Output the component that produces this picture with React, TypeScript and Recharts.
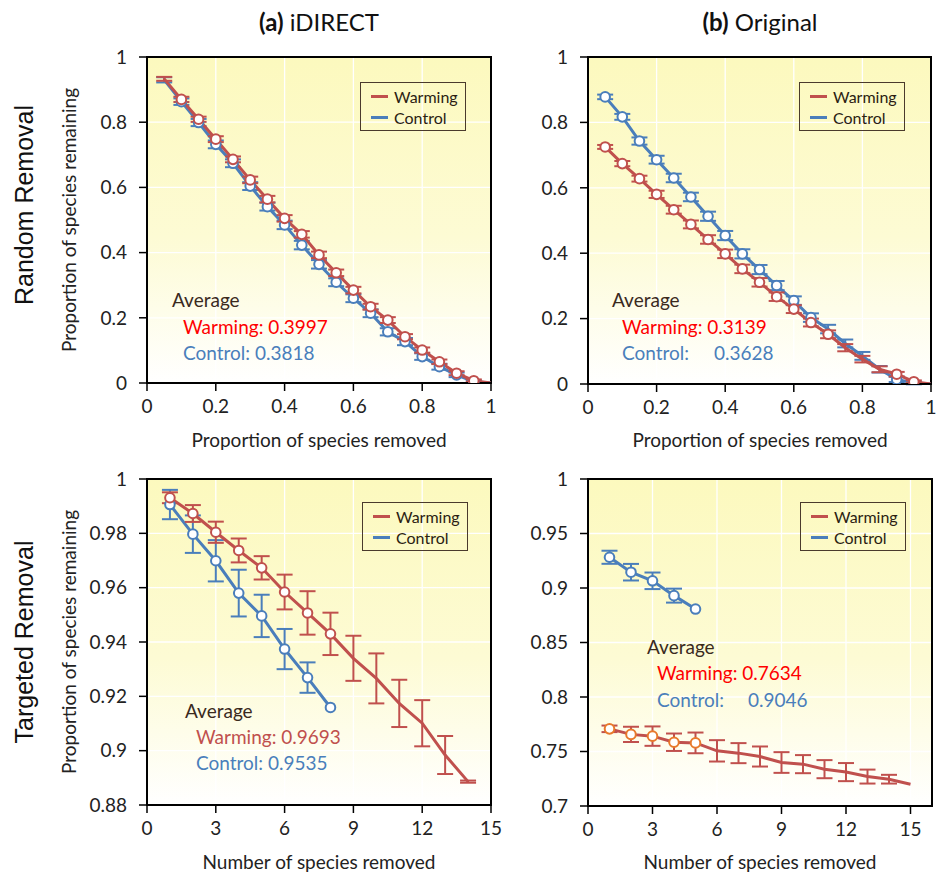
import React from 'react';
import {
  LineChart,
  Line,
  XAxis,
  YAxis,
  CartesianGrid,
  ErrorBar,
  ReferenceArea,
  Legend,
} from 'recharts';

const FONT = 'Lato, "Open Sans", sans-serif';
const WARM = '#C0504D';
const CTRL = '#4A7EBB';
const WARM_MARK_ORIG = '#E8792B';
const INK = '#222222';
const BROWN = '#3A2A1E';

// ---- Random removal: x = proportion of species removed ----
const fractionRemoved = [0.05, 0.1, 0.15, 0.2, 0.25, 0.3, 0.35, 0.4, 0.45, 0.5, 0.55, 0.6, 0.65, 0.7, 0.75, 0.8, 0.85, 0.9, 0.95, 1];
const fractionTicks = [0, 0.2, 0.4, 0.6, 0.8, 1];
const proportionTicks = [0, 0.2, 0.4, 0.6, 0.8, 1];

const idirectRandomWarming = [0.933, 0.870, 0.809, 0.748, 0.686, 0.623, 0.564, 0.505, 0.456, 0.393, 0.338, 0.285, 0.234, 0.193, 0.142, 0.101, 0.065, 0.030, 0.007, 0];
const idirectRandomWarmingErr = [0.006, 0.008, 0.008, 0.009, 0.009, 0.010, 0.010, 0.010, 0.010, 0.010, 0.010, 0.010, 0.009, 0.009, 0.008, 0.008, 0.007, 0.006, 0.004, 0];
const idirectRandomControl = [0.930, 0.863, 0.799, 0.732, 0.674, 0.604, 0.541, 0.485, 0.423, 0.364, 0.309, 0.260, 0.214, 0.157, 0.127, 0.081, 0.050, 0.025, 0.004, 0];
const idirectRandomControlErr = [0.008, 0.010, 0.011, 0.012, 0.012, 0.012, 0.012, 0.013, 0.013, 0.013, 0.012, 0.012, 0.012, 0.011, 0.011, 0.010, 0.009, 0.007, 0.004, 0];

const originalRandomWarming = [0.725, 0.674, 0.628, 0.580, 0.533, 0.488, 0.442, 0.398, 0.352, 0.311, 0.267, 0.229, 0.188, 0.152, 0.111, 0.076, 0.045, 0.030, 0.007, 0];
const originalRandomWarmingErr = [0.006, 0.008, 0.009, 0.011, 0.012, 0.012, 0.013, 0.013, 0.013, 0.013, 0.013, 0.012, 0.012, 0.012, 0.011, 0.010, 0.009, 0.007, 0.004, 0];
const originalRandomControl = [0.878, 0.817, 0.743, 0.686, 0.630, 0.572, 0.513, 0.454, 0.398, 0.350, 0.301, 0.255, 0.203, 0.168, 0.124, 0.086, 0.045, 0.014, 0.003, 0];
const originalRandomControlErr = [0.007, 0.009, 0.011, 0.012, 0.013, 0.013, 0.014, 0.014, 0.014, 0.014, 0.014, 0.013, 0.013, 0.013, 0.012, 0.012, 0.010, 0.008, 0.004, 0];

// ---- Targeted removal: x = number of species removed ----
const countTicks = [0, 3, 6, 9, 12, 15];
const idirectCount = [1, 2, 3, 4, 5, 6, 7, 8, 9, 10, 11, 12, 13, 14];
const idirectTargetTicks = [0.88, 0.9, 0.92, 0.94, 0.96, 0.98, 1];
const idirectTargetWarming = [0.9931, 0.9873, 0.9804, 0.9737, 0.9673, 0.9584, 0.9507, 0.9430, 0.9340, 0.9266, 0.9174, 0.9101, 0.8984, 0.8886];
const idirectTargetWarmingErr = [0.0020, 0.0031, 0.0039, 0.0044, 0.0043, 0.0064, 0.0080, 0.0078, 0.0083, 0.0092, 0.0087, 0.0085, 0.0070, 0.0004];
const idirectTargetControl = [0.9906, 0.9797, 0.9699, 0.9580, 0.9496, 0.9374, 0.9269, 0.9159];
const idirectTargetControlErr = [0.0054, 0.0069, 0.0076, 0.0086, 0.0078, 0.0074, 0.0056, 0];

const originalCount = [1, 2, 3, 4, 5, 6, 7, 8, 9, 10, 11, 12, 13, 14, 15];
const originalTargetTicks = [0.7, 0.75, 0.8, 0.85, 0.9, 0.95, 1];
const originalTargetWarming = [0.7708, 0.7657, 0.7641, 0.7585, 0.7579, 0.7506, 0.7485, 0.7454, 0.7399, 0.7384, 0.7338, 0.7311, 0.7270, 0.7246, 0.7200];
const originalTargetWarmingErr = [0.003, 0.007, 0.0089, 0.008, 0.0095, 0.0098, 0.0092, 0.0092, 0.0095, 0.0083, 0.0083, 0.0083, 0.0064, 0.004, 0];
const originalTargetControl = [0.9282, 0.9145, 0.9066, 0.8930, 0.8807];
const originalTargetControlErr = [0.006, 0.0076, 0.0076, 0.0064, 0];

type Row = { x: number; w?: number; we?: number; c?: number; ce?: number };

function buildRows(xs: number[], w: number[], we: number[], c: number[], ce: number[]): Row[] {
  return xs.map((x, i) => ({ x, w: w[i], we: we[i], c: c[i], ce: ce[i] }));
}

const idirectRandomRows = buildRows(fractionRemoved, idirectRandomWarming, idirectRandomWarmingErr, idirectRandomControl, idirectRandomControlErr);
const originalRandomRows = buildRows(fractionRemoved, originalRandomWarming, originalRandomWarmingErr, originalRandomControl, originalRandomControlErr);
const idirectTargetRows = buildRows(idirectCount, idirectTargetWarming, idirectTargetWarmingErr, idirectTargetControl, idirectTargetControlErr);
const originalTargetRows = buildRows(originalCount, originalTargetWarming, originalTargetWarmingErr, originalTargetControl, originalTargetControlErr);

type Series = {
  key: string;
  errKey: string;
  color: string;
  markColor: string;
  marked: (i: number) => boolean;
};

const makeDot = (s: Series) => (props: any) => {
  const { cx, cy, index, value } = props;
  const k = `${s.key}-dot-${index}`;
  if (!s.marked(index) || cx == null || cy == null || value == null) return <g key={k} />;
  return <circle key={k} cx={cx} cy={cy} r={4.8} fill="#FFFFFF" stroke={s.markColor} strokeWidth={2} />;
};

const LegendBox = () => (
  <div
    style={{
      width: 106,
      height: 49,
      boxSizing: 'border-box',
      border: '1.5px solid #4A3A2C',
      fontFamily: FONT,
      fontSize: 16,
      color: '#2B1D12',
      paddingTop: 3,
    }}
  >
    {[
      ['Warming', WARM],
      ['Control', CTRL],
    ].map(([label, color]) => (
      <div key={label} style={{ display: 'flex', alignItems: 'center', height: 21 }}>
        <span style={{ display: 'inline-block', width: 17, height: 3, background: color, marginLeft: 10, marginRight: 6 }} />
        <span>{label}</span>
      </div>
    ))}
  </div>
);

type PanelProps = {
  id: string;
  left: number;
  top: number;
  plotW: number;
  plotH: number;
  data: Row[];
  xDomain: [number, number];
  xTicks: number[];
  yDomain: [number, number];
  yTicks: number[];
  series: Series[];
  legendLeft: number;
  legendTop: number;
};

const RIGHT_PAD = 16;

function Panel(p: PanelProps) {
  const width = 60 + p.plotW + RIGHT_PAD;
  const height = 20 + p.plotH + 40;
  const tickStyle = { fill: INK, fontSize: 19, fontFamily: FONT };
  return (
    <div style={{ position: 'absolute', left: p.left, top: p.top }}>
      <LineChart width={width} height={height} data={p.data} margin={{ top: 20, right: RIGHT_PAD, bottom: 0, left: 0 }}>
        <defs>
          <linearGradient id={`bg-${p.id}`} x1="0" y1="0" x2="0" y2="1">
            <stop offset="0%" stopColor="#FCF9BE" />
            <stop offset="55%" stopColor="#FDFBD4" />
            <stop offset="100%" stopColor="#FFFFFF" />
          </linearGradient>
        </defs>
        <CartesianGrid stroke="#FFFFFF" strokeWidth={1.3} fill={`url(#bg-${p.id})`} fillOpacity={1} />
        <XAxis
          type="number"
          dataKey="x"
          domain={p.xDomain}
          ticks={p.xTicks}
          interval={0}
          allowDataOverflow
          height={40}
          tickSize={8}
          tickMargin={9}
          axisLine={{ stroke: '#000', strokeWidth: 2 }}
          tickLine={{ stroke: '#000', strokeWidth: 1.5 }}
          tick={tickStyle}
        />
        <YAxis
          type="number"
          domain={p.yDomain}
          ticks={p.yTicks}
          interval={0}
          allowDataOverflow
          width={60}
          tickSize={8}
          tickMargin={12}
          axisLine={{ stroke: '#000', strokeWidth: 2 }}
          tickLine={{ stroke: '#000', strokeWidth: 1.5 }}
          tick={tickStyle}
        />
        <ReferenceArea
          x1={p.xDomain[0]}
          x2={p.xDomain[1]}
          y1={p.yDomain[0]}
          y2={p.yDomain[1]}
          fill="none"
          stroke="#000"
          strokeWidth={2}
          ifOverflow="visible"
        />
        {p.series.map((s) => (
          <Line
            key={s.key}
            type="linear"
            dataKey={s.key}
            stroke={s.color}
            strokeWidth={3}
            dot={makeDot(s)}
            activeDot={false}
            connectNulls={false}
            isAnimationActive={false}
          >
            <ErrorBar dataKey={s.errKey} width={8} stroke={s.color} strokeWidth={2} direction="y" isAnimationActive={false} />
          </Line>
        ))}
        <Legend
          layout="horizontal"
          verticalAlign="middle"
          align="center"
          wrapperStyle={{ left: p.legendLeft, top: p.legendTop, width: 106, height: 49 }}
          content={() => <LegendBox />}
        />
      </LineChart>
    </div>
  );
}

type TextProps = {
  x: number;
  y: number;
  children: React.ReactNode;
  style?: React.CSSProperties;
  center?: boolean;
  rotate?: boolean;
};

const Text = ({ x, y, children, style, center, rotate }: TextProps) => (
  <div
    style={{
      position: 'absolute',
      left: x,
      top: y,
      whiteSpace: 'pre',
      lineHeight: 1.2,
      fontFamily: FONT,
      transform: `translate(${center || rotate ? '-50%' : '0'}, -50%)${rotate ? ' rotate(-90deg)' : ''}`,
      ...style,
    }}
  >
    {children}
  </div>
);

const all = () => true;

export default function App() {
  const annot = { fontSize: 19 };
  return (
    <div style={{ position: 'absolute', left: 0, top: 0, width: 936, height: 878, background: '#FFFFFF', overflow: 'hidden' }}>
      {/* column titles */}
      <Text x={319} y={22} center style={{ fontSize: 24, color: '#111' }}>
        <b>(a)</b> iDIRECT
      </Text>
      <Text x={760} y={22} center style={{ fontSize: 24, color: '#111' }}>
        <b>(b)</b> Original
      </Text>

      {/* row titles */}
      <Text x={24} y={205} rotate style={{ fontSize: 25, fontFamily: '"Liberation Sans", Arial, sans-serif', color: '#111' }}>
        Random Removal
      </Text>
      <Text x={24} y={642} rotate style={{ fontSize: 25, fontFamily: '"Liberation Sans", Arial, sans-serif', color: '#111' }}>
        Targeted Removal
      </Text>

      <Panel
        id="a"
        left={87}
        top={37}
        plotW={344}
        plotH={326}
        data={idirectRandomRows}
        xDomain={[0, 1]}
        xTicks={fractionTicks}
        yDomain={[0, 1]}
        yTicks={proportionTicks}
        series={[
          { key: 'c', errKey: 'ce', color: CTRL, markColor: CTRL, marked: (i) => i >= 1 && i <= 18 },
          { key: 'w', errKey: 'we', color: WARM, markColor: WARM, marked: (i) => i >= 1 && i <= 18 },
        ]}
        legendLeft={273}
        legendTop={45}
      />
      <Panel
        id="b"
        left={528}
        top={37}
        plotW={343}
        plotH={327}
        data={originalRandomRows}
        xDomain={[0, 1]}
        xTicks={fractionTicks}
        yDomain={[0, 1]}
        yTicks={proportionTicks}
        series={[
          { key: 'c', errKey: 'ce', color: CTRL, markColor: CTRL, marked: (i) => i <= 12 || i === 17 },
          { key: 'w', errKey: 'we', color: WARM, markColor: WARM, marked: (i) => i <= 13 || i === 17 || i === 18 },
        ]}
        legendLeft={271}
        legendTop={45}
      />
      <Panel
        id="c"
        left={87}
        top={459}
        plotW={344}
        plotH={326}
        data={idirectTargetRows}
        xDomain={[0, 15]}
        xTicks={countTicks}
        yDomain={[0.88, 1]}
        yTicks={idirectTargetTicks}
        series={[
          { key: 'c', errKey: 'ce', color: CTRL, markColor: CTRL, marked: all },
          { key: 'w', errKey: 'we', color: WARM, markColor: WARM, marked: (i) => i <= 7 },
        ]}
        legendLeft={275}
        legendTop={43}
      />
      <Panel
        id="d"
        left={528}
        top={459}
        plotW={344}
        plotH={327}
        data={originalTargetRows}
        xDomain={[0, 16]}
        xTicks={countTicks}
        yDomain={[0.7, 1]}
        yTicks={originalTargetTicks}
        series={[
          { key: 'c', errKey: 'ce', color: CTRL, markColor: CTRL, marked: all },
          { key: 'w', errKey: 'we', color: WARM, markColor: WARM_MARK_ORIG, marked: (i) => i <= 4 },
        ]}
        legendLeft={272}
        legendTop={43}
      />

      {/* axis titles */}
      <Text x={69} y={220} rotate style={{ fontSize: 19, color: INK }}>
        Proportion of species remaining
      </Text>
      <Text x={69} y={642} rotate style={{ fontSize: 19, color: INK }}>
        Proportion of species remaining
      </Text>
      <Text x={319} y={440} center style={{ fontSize: 19, color: INK }}>
        Proportion of species removed
      </Text>
      <Text x={760} y={440} center style={{ fontSize: 19, color: INK }}>
        Proportion of species removed
      </Text>
      <Text x={319} y={862} center style={{ fontSize: 19, color: INK }}>
        Number of species removed
      </Text>
      <Text x={760} y={862} center style={{ fontSize: 19, color: INK }}>
        Number of species removed
      </Text>

      {/* averages */}
      <Text x={172} y={300} style={{ ...annot, color: BROWN }}>Average</Text>
      <Text x={183} y={327} style={{ ...annot, color: '#FF0000' }}>Warming: 0.3997</Text>
      <Text x={183} y={353} style={{ ...annot, color: CTRL }}>Control: 0.3818</Text>

      <Text x={612} y={300} style={{ ...annot, color: BROWN }}>Average</Text>
      <Text x={622} y={327} style={{ ...annot, color: '#FF0000' }}>Warming: 0.3139</Text>
      <Text x={622} y={353} style={{ ...annot, color: CTRL }}>Control:</Text>
      <Text x={714} y={353} style={{ ...annot, color: CTRL }}>0.3628</Text>

      <Text x={185} y={711} style={{ ...annot, color: BROWN }}>Average</Text>
      <Text x={196} y={737} style={{ ...annot, color: WARM }}>Warming: 0.9693</Text>
      <Text x={196} y={763} style={{ ...annot, color: CTRL }}>Control: 0.9535</Text>

      <Text x={647} y={647} style={{ ...annot, color: BROWN }}>Average</Text>
      <Text x={657} y={673} style={{ ...annot, color: '#FF0000' }}>Warming: 0.7634</Text>
      <Text x={657} y={700} style={{ ...annot, color: CTRL }}>Control:</Text>
      <Text x={748} y={700} style={{ ...annot, color: CTRL }}>0.9046</Text>
    </div>
  );
}
